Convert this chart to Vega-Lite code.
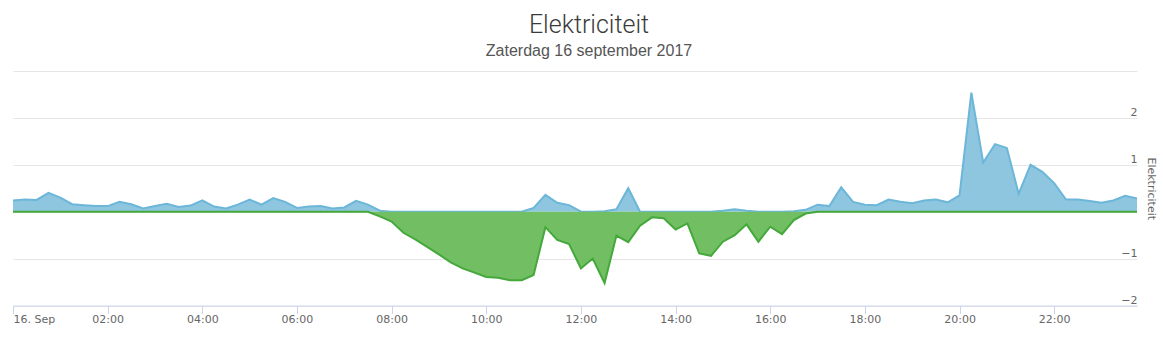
{
  "$schema": "https://vega.github.io/schema/vega-lite/v6.json",
  "autosize": {"type": "none"},
  "padding": {"left": 13, "top": 71, "right": 26, "bottom": 32},
  "width": 1124,
  "height": 234.5,
  "background": "#ffffff",
  "config": {"view": {"stroke": null}},
  "title": {
    "text": "Elektriciteit",
    "subtitle": "Zaterdag 16 september 2017",
    "font": "Roboto",
    "fontWeight": 300,
    "fontSize": 25,
    "color": "#3a3a3a",
    "subtitleFont": "Liberation Sans",
    "subtitleFontSize": 16,
    "subtitleColor": "#555555",
    "anchor": "middle",
    "frame": "group",
    "dx": 14,
    "offset": 12,
    "subtitlePadding": 5
  },
  "resolve": {"axis": {"y": "independent"}},
  "data": {
    "values": [
      {"t": "2017-09-16T00:00:00Z", "verbruik": 0.24, "levering": 0},
      {"t": "2017-09-16T00:15:00Z", "verbruik": 0.26, "levering": 0},
      {"t": "2017-09-16T00:30:00Z", "verbruik": 0.25, "levering": 0},
      {"t": "2017-09-16T00:45:00Z", "verbruik": 0.40, "levering": 0},
      {"t": "2017-09-16T01:00:00Z", "verbruik": 0.30, "levering": 0},
      {"t": "2017-09-16T01:15:00Z", "verbruik": 0.16, "levering": 0},
      {"t": "2017-09-16T01:30:00Z", "verbruik": 0.14, "levering": 0},
      {"t": "2017-09-16T01:45:00Z", "verbruik": 0.12, "levering": 0},
      {"t": "2017-09-16T02:00:00Z", "verbruik": 0.12, "levering": 0},
      {"t": "2017-09-16T02:15:00Z", "verbruik": 0.21, "levering": 0},
      {"t": "2017-09-16T02:30:00Z", "verbruik": 0.16, "levering": 0},
      {"t": "2017-09-16T02:45:00Z", "verbruik": 0.07, "levering": 0},
      {"t": "2017-09-16T03:00:00Z", "verbruik": 0.12, "levering": 0},
      {"t": "2017-09-16T03:15:00Z", "verbruik": 0.17, "levering": 0},
      {"t": "2017-09-16T03:30:00Z", "verbruik": 0.10, "levering": 0},
      {"t": "2017-09-16T03:45:00Z", "verbruik": 0.13, "levering": 0},
      {"t": "2017-09-16T04:00:00Z", "verbruik": 0.24, "levering": 0},
      {"t": "2017-09-16T04:15:00Z", "verbruik": 0.11, "levering": 0},
      {"t": "2017-09-16T04:30:00Z", "verbruik": 0.07, "levering": 0},
      {"t": "2017-09-16T04:45:00Z", "verbruik": 0.15, "levering": 0},
      {"t": "2017-09-16T05:00:00Z", "verbruik": 0.26, "levering": 0},
      {"t": "2017-09-16T05:15:00Z", "verbruik": 0.15, "levering": 0},
      {"t": "2017-09-16T05:30:00Z", "verbruik": 0.29, "levering": 0},
      {"t": "2017-09-16T05:45:00Z", "verbruik": 0.21, "levering": 0},
      {"t": "2017-09-16T06:00:00Z", "verbruik": 0.08, "levering": 0},
      {"t": "2017-09-16T06:15:00Z", "verbruik": 0.11, "levering": 0},
      {"t": "2017-09-16T06:30:00Z", "verbruik": 0.12, "levering": 0},
      {"t": "2017-09-16T06:45:00Z", "verbruik": 0.07, "levering": 0},
      {"t": "2017-09-16T07:00:00Z", "verbruik": 0.09, "levering": 0},
      {"t": "2017-09-16T07:15:00Z", "verbruik": 0.23, "levering": 0},
      {"t": "2017-09-16T07:30:00Z", "verbruik": 0.15, "levering": 0},
      {"t": "2017-09-16T07:45:00Z", "verbruik": 0.02, "levering": -0.10},
      {"t": "2017-09-16T08:00:00Z", "verbruik": 0, "levering": -0.21},
      {"t": "2017-09-16T08:15:00Z", "verbruik": 0, "levering": -0.45},
      {"t": "2017-09-16T08:30:00Z", "verbruik": 0, "levering": -0.59},
      {"t": "2017-09-16T08:45:00Z", "verbruik": 0, "levering": -0.75},
      {"t": "2017-09-16T09:00:00Z", "verbruik": 0, "levering": -0.91},
      {"t": "2017-09-16T09:15:00Z", "verbruik": 0, "levering": -1.08},
      {"t": "2017-09-16T09:30:00Z", "verbruik": 0, "levering": -1.21},
      {"t": "2017-09-16T09:45:00Z", "verbruik": 0, "levering": -1.30},
      {"t": "2017-09-16T10:00:00Z", "verbruik": 0, "levering": -1.39},
      {"t": "2017-09-16T10:15:00Z", "verbruik": 0, "levering": -1.41},
      {"t": "2017-09-16T10:30:00Z", "verbruik": 0, "levering": -1.46},
      {"t": "2017-09-16T10:45:00Z", "verbruik": 0, "levering": -1.46},
      {"t": "2017-09-16T11:00:00Z", "verbruik": 0.08, "levering": -1.35},
      {"t": "2017-09-16T11:15:00Z", "verbruik": 0.36, "levering": -0.33},
      {"t": "2017-09-16T11:30:00Z", "verbruik": 0.19, "levering": -0.60},
      {"t": "2017-09-16T11:45:00Z", "verbruik": 0.14, "levering": -0.69},
      {"t": "2017-09-16T12:00:00Z", "verbruik": 0, "levering": -1.21},
      {"t": "2017-09-16T12:15:00Z", "verbruik": 0, "levering": -1.00},
      {"t": "2017-09-16T12:30:00Z", "verbruik": 0.01, "levering": -1.52},
      {"t": "2017-09-16T12:45:00Z", "verbruik": 0.05, "levering": -0.51},
      {"t": "2017-09-16T13:00:00Z", "verbruik": 0.50, "levering": -0.65},
      {"t": "2017-09-16T13:15:00Z", "verbruik": 0, "levering": -0.30},
      {"t": "2017-09-16T13:30:00Z", "verbruik": 0, "levering": -0.12},
      {"t": "2017-09-16T13:45:00Z", "verbruik": 0, "levering": -0.14},
      {"t": "2017-09-16T14:00:00Z", "verbruik": 0, "levering": -0.38},
      {"t": "2017-09-16T14:15:00Z", "verbruik": 0, "levering": -0.25},
      {"t": "2017-09-16T14:30:00Z", "verbruik": 0, "levering": -0.89},
      {"t": "2017-09-16T14:45:00Z", "verbruik": 0, "levering": -0.94},
      {"t": "2017-09-16T15:00:00Z", "verbruik": 0.02, "levering": -0.64},
      {"t": "2017-09-16T15:15:00Z", "verbruik": 0.05, "levering": -0.50},
      {"t": "2017-09-16T15:30:00Z", "verbruik": 0.02, "levering": -0.27},
      {"t": "2017-09-16T15:45:00Z", "verbruik": 0, "levering": -0.64},
      {"t": "2017-09-16T16:00:00Z", "verbruik": 0, "levering": -0.32},
      {"t": "2017-09-16T16:15:00Z", "verbruik": 0, "levering": -0.48},
      {"t": "2017-09-16T16:30:00Z", "verbruik": 0.01, "levering": -0.18},
      {"t": "2017-09-16T16:45:00Z", "verbruik": 0.04, "levering": -0.04},
      {"t": "2017-09-16T17:00:00Z", "verbruik": 0.15, "levering": 0},
      {"t": "2017-09-16T17:15:00Z", "verbruik": 0.12, "levering": 0},
      {"t": "2017-09-16T17:30:00Z", "verbruik": 0.52, "levering": 0},
      {"t": "2017-09-16T17:45:00Z", "verbruik": 0.21, "levering": 0},
      {"t": "2017-09-16T18:00:00Z", "verbruik": 0.15, "levering": 0},
      {"t": "2017-09-16T18:15:00Z", "verbruik": 0.14, "levering": 0},
      {"t": "2017-09-16T18:30:00Z", "verbruik": 0.26, "levering": 0},
      {"t": "2017-09-16T18:45:00Z", "verbruik": 0.21, "levering": 0},
      {"t": "2017-09-16T19:00:00Z", "verbruik": 0.18, "levering": 0},
      {"t": "2017-09-16T19:15:00Z", "verbruik": 0.24, "levering": 0},
      {"t": "2017-09-16T19:30:00Z", "verbruik": 0.26, "levering": 0},
      {"t": "2017-09-16T19:45:00Z", "verbruik": 0.20, "levering": 0},
      {"t": "2017-09-16T20:00:00Z", "verbruik": 0.35, "levering": 0},
      {"t": "2017-09-16T20:15:00Z", "verbruik": 2.54, "levering": 0},
      {"t": "2017-09-16T20:30:00Z", "verbruik": 1.05, "levering": 0},
      {"t": "2017-09-16T20:45:00Z", "verbruik": 1.44, "levering": 0},
      {"t": "2017-09-16T21:00:00Z", "verbruik": 1.36, "levering": 0},
      {"t": "2017-09-16T21:15:00Z", "verbruik": 0.38, "levering": 0},
      {"t": "2017-09-16T21:30:00Z", "verbruik": 1.00, "levering": 0},
      {"t": "2017-09-16T21:45:00Z", "verbruik": 0.85, "levering": 0},
      {"t": "2017-09-16T22:00:00Z", "verbruik": 0.61, "levering": 0},
      {"t": "2017-09-16T22:15:00Z", "verbruik": 0.26, "levering": 0},
      {"t": "2017-09-16T22:30:00Z", "verbruik": 0.26, "levering": 0},
      {"t": "2017-09-16T22:45:00Z", "verbruik": 0.23, "levering": 0},
      {"t": "2017-09-16T23:00:00Z", "verbruik": 0.19, "levering": 0},
      {"t": "2017-09-16T23:15:00Z", "verbruik": 0.24, "levering": 0},
      {"t": "2017-09-16T23:30:00Z", "verbruik": 0.34, "levering": 0},
      {"t": "2017-09-16T23:45:00Z", "verbruik": 0.28, "levering": 0}
    ]
  },
  "layer": [
    {
      "mark": {
        "type": "area",
        "color": "#8ec6df",
        "opacity": 1,
        "line": {"color": "#6cb6d9", "strokeWidth": 2}
      },
      "encoding": {
        "x": {
          "field": "t",
          "type": "temporal",
          "scale": {"type": "utc", "nice": false},
          "axis": {
            "title": null,
            "grid": false,
            "values": [
              {"year": 2017, "month": 9, "date": 16, "hours": 0, "utc": true},
              {"year": 2017, "month": 9, "date": 16, "hours": 2, "utc": true},
              {"year": 2017, "month": 9, "date": 16, "hours": 4, "utc": true},
              {"year": 2017, "month": 9, "date": 16, "hours": 6, "utc": true},
              {"year": 2017, "month": 9, "date": 16, "hours": 8, "utc": true},
              {"year": 2017, "month": 9, "date": 16, "hours": 10, "utc": true},
              {"year": 2017, "month": 9, "date": 16, "hours": 12, "utc": true},
              {"year": 2017, "month": 9, "date": 16, "hours": 14, "utc": true},
              {"year": 2017, "month": 9, "date": 16, "hours": 16, "utc": true},
              {"year": 2017, "month": 9, "date": 16, "hours": 18, "utc": true},
              {"year": 2017, "month": 9, "date": 16, "hours": 20, "utc": true},
              {"year": 2017, "month": 9, "date": 16, "hours": 22, "utc": true}
            ],
            "format": "%H:%M",
            "labelExpr": "datum.label == '00:00' ? '16. Sep' : datum.label",
            "labelFont": "DejaVu Sans",
            "labelFontSize": 11,
            "labelColor": "#666666",
            "labelFlush": true,
            "labelPadding": 0,
            "labelOverlap": false,
            "domainColor": "#ccd6eb",
            "domainWidth": 1,
            "tickColor": "#ccd6eb",
            "tickSize": 8,
            "tickWidth": 1
          }
        },
        "y": {
          "field": "verbruik",
          "type": "quantitative",
          "scale": {"domain": [-2, 3], "nice": false, "zero": false},
          "axis": {
            "orient": "right",
            "title": "Elektriciteit",
            "titleFont": "DejaVu Sans",
            "titleFontSize": 11,
            "titleFontWeight": "normal",
            "titleColor": "#666666",
            "titlePadding": 8,
            "values": [-2, -1, 0, 1, 2, 3],
            "labelExpr": "datum.value == 3 ? '' : datum.label",
            "labelFont": "DejaVu Sans",
            "labelFontSize": 11,
            "labelColor": "#666666",
            "labelAlign": "right",
            "labelBaseline": "alphabetic",
            "labelOffset": -2,
            "labelPadding": 0,
            "ticks": false,
            "tickSize": 0,
            "domain": false,
            "grid": true,
            "gridColor": "#e6e6e6",
            "gridWidth": 1
          }
        }
      }
    },
    {
      "mark": {
        "type": "area",
        "color": "#72bf63",
        "opacity": 1,
        "line": {"color": "#44a83a", "strokeWidth": 2}
      },
      "encoding": {
        "x": {"field": "t", "type": "temporal"},
        "y": {"field": "levering", "type": "quantitative", "axis": null}
      }
    }
  ]
}
